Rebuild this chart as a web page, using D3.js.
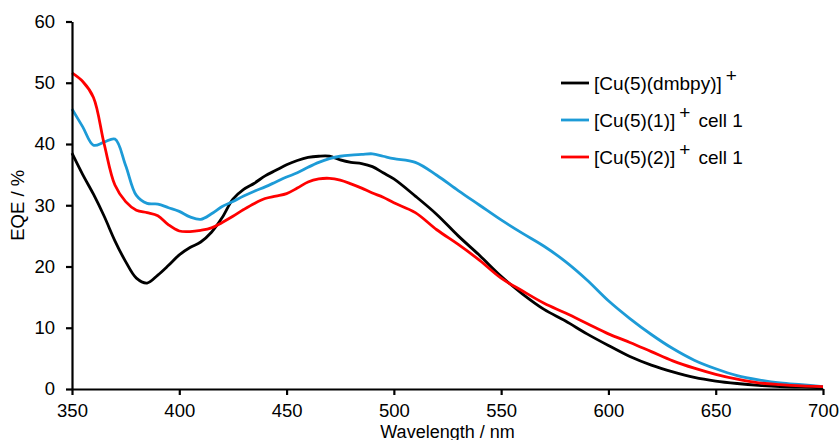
<!DOCTYPE html>
<html>
<head>
<meta charset="utf-8">
<script src="https://cdn.jsdelivr.net/npm/d3@7"></script>
<style>
  html, body { margin: 0; padding: 0; background: #fff; }
  svg { display: block; font-family: "Liberation Sans", Arial, Helvetica, sans-serif; }
</style>
</head>
<body>
<svg id="chart" width="840" height="440"></svg>
<script>
// Wavelength grid (nm)
const wavelengths = [
  350,355,360,365,370,375,380,385,390,395,400,405,410,415,420,425,430,435,440,445,
  450,455,460,465,470,475,480,485,490,495,500,
  510,520,530,540,550,560,570,580,590,600,610,620,630,640,650,660,670,680,690,700
];

// EQE (%) for each device
const eqeDmbpy = [
  38.5,35.0,31.8,28.2,24.2,20.8,18.1,17.3,18.6,20.2,21.9,23.1,24.0,25.6,28.0,31.0,32.6,33.6,34.8,35.7,
  36.6,37.3,37.8,38.0,38.0,37.4,37.0,36.8,36.3,35.3,34.3,
  31.5,28.5,25.0,21.8,18.4,15.5,13.0,11.1,9.0,7.1,5.3,3.9,2.8,1.9,1.3,0.9,0.6,0.4,0.3,0.2
];
const eqeCell1 = [
  45.7,42.8,39.8,40.3,40.8,36.5,31.6,30.3,30.2,29.6,29.0,28.1,27.7,28.6,29.8,30.6,31.5,32.3,33.0,33.8,
  34.6,35.3,36.2,37.0,37.6,38.0,38.2,38.3,38.4,38.0,37.6,
  37.0,34.9,32.4,30.0,27.6,25.4,23.3,20.8,17.8,14.4,11.5,8.9,6.6,4.7,3.3,2.2,1.5,1.0,0.7,0.4
];
const eqeCell2 = [
  51.6,50.2,47.6,40.0,33.3,30.6,29.2,28.8,28.3,26.8,25.8,25.7,25.9,26.3,27.2,28.2,29.3,30.3,31.1,31.5,
  31.9,32.8,33.8,34.3,34.4,34.1,33.5,32.8,32.0,31.3,30.4,
  28.8,26.0,23.6,21.0,18.1,16.0,14.0,12.4,10.7,9.0,7.6,6.1,4.6,3.4,2.4,1.6,1.0,0.7,0.5,0.4
];

const xTicks = [350,400,450,500,550,600,650,700];
const yTicks = [0,10,20,30,40,50,60];

const series = [
  { name: "[Cu(5)(dmbpy)]", suffix: "", values: eqeDmbpy, color: "#000000" },
  { name: "[Cu(5)(1)]", suffix: "cell 1", values: eqeCell1, color: "#1d9bd7" },
  { name: "[Cu(5)(2)]", suffix: "cell 1", values: eqeCell2, color: "#ff0000" }
];

const svg = d3.select("#chart");
const plotLeft = 72, plotRight = 823, plotTop = 21.5, plotBottom = 389;
const fontSize = "18.5px";

const x = d3.scaleLinear().domain([350, 700]).range([plotLeft, plotRight]);
const y = d3.scaleLinear().domain([0, 60]).range([plotBottom, plotTop]);

// Curves
const line = d3.line()
  .x((d, i) => x(wavelengths[i]))
  .y(d => y(d))
  .curve(d3.curveCatmullRom.alpha(0.5));

svg.append("g").selectAll("path")
  .data(series)
  .join("path")
  .attr("fill", "none")
  .attr("stroke", d => d.color)
  .attr("stroke-width", 2.8)
  .attr("stroke-linejoin", "round")
  .attr("d", d => line(d.values));

// Axes
const xAxis = svg.append("g")
  .attr("transform", `translate(0,${plotBottom})`)
  .call(d3.axisBottom(x).tickValues(xTicks).tickSize(6).tickSizeOuter(0).tickPadding(9));
const yAxis = svg.append("g")
  .attr("transform", `translate(${plotLeft},0)`)
  .call(d3.axisLeft(y).tickValues(yTicks).tickSize(6).tickSizeOuter(0).tickPadding(11));

[xAxis, yAxis].forEach(g => {
  g.select(".domain").attr("stroke", "#000").attr("stroke-width", 2.2);
  g.selectAll(".tick line").attr("stroke", "#000").attr("stroke-width", 2.2);
  g.selectAll(".tick text")
    .attr("fill", "#000")
    .style("font-size", fontSize)
    .style("font-family", "'Liberation Sans', Arial, sans-serif");
});

// Axis titles
svg.append("text")
  .attr("x", (plotLeft + plotRight) / 2)
  .attr("y", 437.5)
  .attr("text-anchor", "middle")
  .style("font-size", "18px")
  .text("Wavelength / nm");

svg.append("text")
  .attr("transform", `translate(24,${(plotTop + plotBottom) / 2}) rotate(-90)`)
  .attr("text-anchor", "middle")
  .style("font-size", fontSize)
  .text("EQE / %");

// Legend
const legend = svg.append("g");
const rowY = [83, 120, 157];
series.forEach((s, i) => {
  const g = legend.append("g").attr("transform", `translate(0,${rowY[i]})`);
  g.append("line")
    .attr("x1", 561).attr("x2", 589)
    .attr("y1", 0).attr("y2", 0)
    .attr("stroke", s.color).attr("stroke-width", 2.8);
  const t = g.append("text")
    .attr("x", 594).attr("y", 7)
    .style("font-size", "19px");
  t.append("tspan").text(s.name);
  t.append("tspan").attr("dy", -8).attr("dx", 4).text("+");
  if (s.suffix) t.append("tspan").attr("dy", 8).attr("dx", 8).text(s.suffix);
});
</script>
</body>
</html>
